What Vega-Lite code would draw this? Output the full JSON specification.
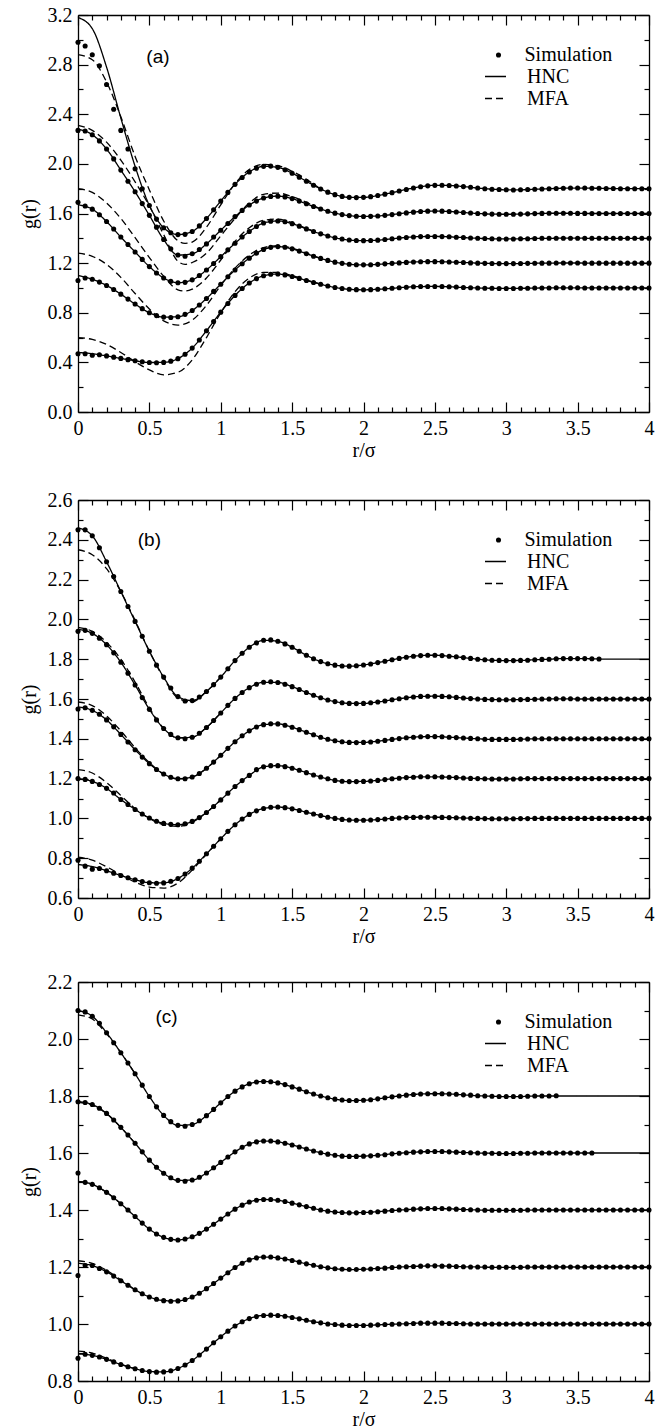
{
"$schema": "https://vega.github.io/schema/vega-lite/v6.json",
"background": "white",
"padding": {"left": 19, "top": 5, "right": 8, "bottom": 4},
"config": {
 "view": {"stroke": null},
 "axis": {"labelFont": "Liberation Serif", "labelFontSize": 20, "labelColor": "black", "titleFont": "Liberation Serif", "titleFontSize": 20, "titleFontWeight": "normal", "titleColor": "black", "domainColor": "black", "domainWidth": 1.3, "tickColor": "black", "tickWidth": 1.2, "grid": false, "labelFlush": false, "labelOverlap": false, "labelBound": false},
 "legend": {"labelFont": "Liberation Serif", "labelFontSize": 20, "labelColor": "black", "title": null, "orient": "none"}
},
"spacing": 30,
"resolve": {"scale": {"strokeDash": "independent", "shape": "independent"}, "legend": {"strokeDash": "independent", "shape": "independent"}},
"datasets": {
"a": [
{"r":0,"s1":0.47,"s2":1.06,"s3":1.69,"s4":2.27,"s5":2.98,"h1":0.48,"h2":1.1,"h3":1.67,"h4":2.28,"h5":3.18,"m1":0.6,"m2":1.28,"m3":1.8,"m4":2.31,"m5":2.88},
{"r":0.05,"s1":0.47,"s2":1.08,"s3":1.66,"s4":2.265,"s5":2.95},
{"r":0.1,"s1":0.458,"s2":1.07,"s3":1.635,"s4":2.235,"s5":2.88,"h1":0.47,"h2":1.07,"h3":1.635,"h4":2.235,"h5":3.09,"m1":0.585,"m2":1.255,"m3":1.77,"m4":2.27,"m5":2.84},
{"r":0.15,"s1":0.462,"s2":1.047,"s3":1.59,"s4":2.185,"s5":2.79},
{"r":0.2,"s1":0.452,"s2":1.02,"s3":1.535,"s4":2.12,"s5":2.64,"h1":0.452,"h2":1.02,"h3":1.535,"h4":2.12,"h5":2.78,"m1":0.545,"m2":1.19,"m3":1.685,"m4":2.175,"m5":2.66},
{"r":0.25,"s1":0.442,"s2":0.987,"s3":1.475,"s4":2.04,"s5":2.44},
{"r":0.3,"s1":0.432,"s2":0.95,"s3":1.41,"s4":1.95,"s5":2.27,"h1":0.432,"h2":0.95,"h3":1.41,"h4":1.95,"h5":2.37,"m1":0.48,"m2":1.085,"m3":1.56,"m4":2.03,"m5":2.38},
{"r":0.35,"s1":0.422,"s2":0.91,"s3":1.35,"s4":1.86,"s5":2.12},
{"r":0.4,"s1":0.413,"s2":0.87,"s3":1.29,"s4":1.775,"s5":1.96,"h1":0.413,"h2":0.87,"h3":1.29,"h4":1.775,"h5":1.98,"m1":0.405,"m2":0.955,"m3":1.405,"m4":1.855,"m5":2.06},
{"r":0.45,"s1":0.405,"s2":0.833,"s3":1.23,"s4":1.68,"s5":1.8},
{"r":0.5,"s1":0.399,"s2":0.8,"s3":1.172,"s4":1.585,"s5":1.665,"h1":0.399,"h2":0.8,"h3":1.172,"h4":1.585,"h5":1.665,"m1":0.34,"m2":0.83,"m3":1.245,"m4":1.66,"m5":1.79},
{"r":0.55,"s1":0.397,"s2":0.777,"s3":1.12,"s4":1.49,"s5":1.555},
{"r":0.6,"s1":0.4,"s2":0.765,"s3":1.08,"s4":1.39,"s5":1.485,"h1":0.4,"h2":0.765,"h3":1.08,"h4":1.39,"h5":1.485,"m1":0.3,"m2":0.735,"m3":1.095,"m4":1.43,"m5":1.54},
{"r":0.65,"s1":0.41,"s2":0.762,"s3":1.053,"s4":1.315,"s5":1.445},
{"r":0.7,"s1":0.43,"s2":0.768,"s3":1.042,"s4":1.265,"s5":1.43,"h1":0.43,"h2":0.768,"h3":1.042,"h4":1.265,"h5":1.43,"m1":0.32,"m2":0.7,"m3":0.985,"m4":1.215,"m5":1.38},
{"r":0.75,"s1":0.465,"s2":0.787,"s3":1.045,"s4":1.256,"s5":1.432,"m3":0.975,"m4":1.19,"m5":1.36},
{"r":0.8,"s1":0.515,"s2":0.818,"s3":1.065,"s4":1.275,"s5":1.455,"h1":0.515,"h2":0.818,"h3":1.065,"h4":1.275,"h5":1.455,"m1":0.42,"m2":0.74,"m3":0.99,"m4":1.205,"m5":1.37},
{"r":0.85,"s1":0.58,"s2":0.862,"s3":1.1,"s4":1.31,"s5":1.5},
{"r":0.9,"s1":0.655,"s2":0.915,"s3":1.145,"s4":1.355,"s5":1.56,"h1":0.655,"h2":0.915,"h3":1.145,"h4":1.355,"h5":1.56,"m1":0.6,"m2":0.86,"m3":1.08,"m4":1.28,"m5":1.49},
{"r":0.95,"s1":0.73,"s2":0.972,"s3":1.197,"s4":1.41,"s5":1.63},
{"r":1,"s1":0.805,"s2":1.03,"s3":1.252,"s4":1.465,"s5":1.7,"h1":0.805,"h2":1.03,"h3":1.252,"h4":1.465,"h5":1.7,"m1":0.8,"m2":1.02,"m3":1.225,"m4":1.42,"m5":1.67},
{"r":1.05,"s1":0.875,"s2":1.09,"s3":1.307,"s4":1.52,"s5":1.77},
{"r":1.1,"s1":0.94,"s2":1.145,"s3":1.36,"s4":1.575,"s5":1.835,"h1":0.94,"h2":1.145,"h3":1.36,"h4":1.575,"h5":1.835,"m1":0.97,"m2":1.16,"m3":1.375,"m4":1.56,"m5":1.84},
{"r":1.15,"s1":0.995,"s2":1.195,"s3":1.41,"s4":1.625,"s5":1.89},
{"r":1.2,"s1":1.04,"s2":1.24,"s3":1.455,"s4":1.668,"s5":1.935,"h1":1.04,"h2":1.24,"h3":1.455,"h4":1.668,"h5":1.935,"m1":1.08,"m2":1.265,"m3":1.485,"m4":1.685,"m5":1.955},
{"r":1.25,"s1":1.075,"s2":1.28,"s3":1.495,"s4":1.7,"s5":1.965},
{"r":1.3,"s1":1.098,"s2":1.31,"s3":1.523,"s4":1.725,"s5":1.98,"h1":1.098,"h2":1.31,"h3":1.523,"h4":1.725,"h5":1.98,"m1":1.125,"m2":1.325,"m3":1.545,"m4":1.755,"m5":1.995},
{"r":1.35,"s1":1.11,"s2":1.327,"s3":1.538,"s4":1.738,"s5":1.982},
{"r":1.4,"s1":1.112,"s2":1.333,"s3":1.54,"s4":1.74,"s5":1.972,"h1":1.112,"h2":1.333,"h3":1.54,"h4":1.74,"h5":1.972,"m1":1.125,"m2":1.34,"m3":1.555,"m4":1.765,"m5":1.985},
{"r":1.45,"s1":1.105,"s2":1.328,"s3":1.533,"s4":1.734,"s5":1.952},
{"r":1.5,"s1":1.092,"s2":1.315,"s3":1.518,"s4":1.72,"s5":1.925,"h1":1.092,"h2":1.315,"h3":1.518,"h4":1.72,"h5":1.925,"m1":1.1,"m2":1.32,"m3":1.525,"m4":1.735,"m5":1.94},
{"r":1.55,"s1":1.077,"s2":1.297,"s3":1.498,"s4":1.7,"s5":1.893},
{"r":1.6,"s1":1.06,"s2":1.276,"s3":1.476,"s4":1.678,"s5":1.86,"h1":1.06,"h2":1.276,"h3":1.476,"h4":1.678,"h5":1.86,"m1":1.065,"m2":1.28,"m3":1.48,"m4":1.69,"m5":1.875},
{"r":1.65,"s1":1.044,"s2":1.256,"s3":1.455,"s4":1.656,"s5":1.828},
{"r":1.7,"s1":1.03,"s2":1.238,"s3":1.436,"s4":1.636,"s5":1.798,"h1":1.03,"h2":1.238,"h3":1.436,"h4":1.636,"h5":1.798,"m1":1.03,"m2":1.238,"m3":1.436,"m4":1.636,"m5":1.798},
{"r":1.75,"s1":1.016,"s2":1.222,"s3":1.419,"s4":1.618,"s5":1.772},
{"r":1.8,"s1":1.004,"s2":1.208,"s3":1.405,"s4":1.603,"s5":1.752,"h1":1.004,"h2":1.208,"h3":1.405,"h4":1.603,"h5":1.752},
{"r":1.85,"s1":0.995,"s2":1.198,"s3":1.394,"s4":1.591,"s5":1.738},
{"r":1.9,"s1":0.989,"s2":1.191,"s3":1.386,"s4":1.583,"s5":1.73,"h1":0.989,"h2":1.191,"h3":1.386,"h4":1.583,"h5":1.73},
{"r":1.95,"s1":0.986,"s2":1.187,"s3":1.382,"s4":1.578,"s5":1.728},
{"r":2,"s1":0.985,"s2":1.186,"s3":1.381,"s4":1.576,"s5":1.73,"h1":0.985,"h2":1.186,"h3":1.381,"h4":1.576,"h5":1.73},
{"r":2.05,"s1":0.986,"s2":1.187,"s3":1.382,"s4":1.577,"s5":1.736},
{"r":2.1,"s1":0.989,"s2":1.19,"s3":1.385,"s4":1.58,"s5":1.745,"h1":0.989,"h2":1.19,"h3":1.385,"h4":1.58,"h5":1.745},
{"r":2.15,"s1":0.993,"s2":1.194,"s3":1.39,"s4":1.585,"s5":1.756},
{"r":2.2,"s1":0.997,"s2":1.198,"s3":1.396,"s4":1.591,"s5":1.768,"h1":0.997,"h2":1.198,"h3":1.396,"h4":1.591,"h5":1.768},
{"r":2.25,"s1":1.002,"s2":1.202,"s3":1.402,"s4":1.598,"s5":1.781},
{"r":2.3,"s1":1.006,"s2":1.206,"s3":1.407,"s4":1.605,"s5":1.794,"h1":1.006,"h2":1.206,"h3":1.407,"h4":1.605,"h5":1.794},
{"r":2.35,"s1":1.009,"s2":1.209,"s3":1.411,"s4":1.611,"s5":1.806},
{"r":2.4,"s1":1.011,"s2":1.211,"s3":1.414,"s4":1.616,"s5":1.816,"h1":1.011,"h2":1.211,"h3":1.414,"h4":1.616,"h5":1.816},
{"r":2.45,"s1":1.012,"s2":1.212,"s3":1.415,"s4":1.619,"s5":1.823},
{"r":2.5,"s1":1.012,"s2":1.212,"s3":1.415,"s4":1.62,"s5":1.827,"h1":1.012,"h2":1.212,"h3":1.415,"h4":1.62,"h5":1.827},
{"r":2.55,"s1":1.011,"s2":1.211,"s3":1.414,"s4":1.619,"s5":1.828},
{"r":2.6,"s1":1.009,"s2":1.209,"s3":1.412,"s4":1.616,"s5":1.826,"h1":1.009,"h2":1.209,"h3":1.412,"h4":1.616,"h5":1.826},
{"r":2.65,"s1":1.007,"s2":1.207,"s3":1.409,"s4":1.612,"s5":1.822},
{"r":2.7,"s1":1.004,"s2":1.205,"s3":1.406,"s4":1.608,"s5":1.817,"h1":1.004,"h2":1.205,"h3":1.406,"h4":1.608,"h5":1.817},
{"r":2.75,"s1":1.002,"s2":1.202,"s3":1.403,"s4":1.604,"s5":1.811},
{"r":2.8,"s1":1,"s2":1.2,"s3":1.4,"s4":1.6,"s5":1.805,"h1":1,"h2":1.2,"h3":1.4,"h4":1.6,"h5":1.805},
{"r":2.85,"s1":0.998,"s2":1.198,"s3":1.398,"s4":1.597,"s5":1.8},
{"r":2.9,"s1":0.997,"s2":1.197,"s3":1.396,"s4":1.595,"s5":1.796,"h1":0.997,"h2":1.197,"h3":1.396,"h4":1.595,"h5":1.796},
{"r":2.95,"s1":0.996,"s2":1.196,"s3":1.395,"s4":1.594,"s5":1.793},
{"r":3,"s1":0.996,"s2":1.196,"s3":1.395,"s4":1.594,"s5":1.791,"h1":0.996,"h2":1.196,"h3":1.395,"h4":1.594,"h5":1.791},
{"r":3.05,"s1":0.996,"s2":1.196,"s3":1.395,"s4":1.594,"s5":1.79},
{"r":3.1,"s1":0.997,"s2":1.197,"s3":1.396,"s4":1.595,"s5":1.791,"h1":0.997,"h2":1.197,"h3":1.396,"h4":1.595,"h5":1.791},
{"r":3.15,"s1":0.998,"s2":1.198,"s3":1.397,"s4":1.597,"s5":1.793},
{"r":3.2,"s1":0.999,"s2":1.199,"s3":1.399,"s4":1.599,"s5":1.795,"h1":0.999,"h2":1.199,"h3":1.399,"h4":1.599,"h5":1.795},
{"r":3.25,"s1":1,"s2":1.2,"s3":1.4,"s4":1.601,"s5":1.798},
{"r":3.3,"s1":1,"s2":1.2,"s3":1.4,"s4":1.602,"s5":1.8,"h1":1,"h2":1.2,"h3":1.4,"h4":1.602,"h5":1.8},
{"r":3.35,"s1":1.001,"s2":1.201,"s3":1.401,"s4":1.602,"s5":1.802},
{"r":3.4,"s1":1.001,"s2":1.201,"s3":1.401,"s4":1.602,"s5":1.804,"h1":1.001,"h2":1.201,"h3":1.401,"h4":1.602,"h5":1.804},
{"r":3.45,"s1":1.001,"s2":1.201,"s3":1.401,"s4":1.602,"s5":1.805},
{"r":3.5,"s1":1.001,"s2":1.201,"s3":1.401,"s4":1.601,"s5":1.805,"h1":1.001,"h2":1.201,"h3":1.401,"h4":1.601,"h5":1.805},
{"r":3.55,"s1":1,"s2":1.2,"s3":1.4,"s4":1.601,"s5":1.805},
{"r":3.6,"s1":1,"s2":1.2,"s3":1.4,"s4":1.6,"s5":1.804,"h1":1,"h2":1.2,"h3":1.4,"h4":1.6,"h5":1.804},
{"r":3.65,"s1":1,"s2":1.2,"s3":1.4,"s4":1.6,"s5":1.803},
{"r":3.7,"s1":1,"s2":1.2,"s3":1.4,"s4":1.6,"s5":1.802,"h1":1,"h2":1.2,"h3":1.4,"h4":1.6,"h5":1.802},
{"r":3.75,"s1":1,"s2":1.2,"s3":1.4,"s4":1.6,"s5":1.801},
{"r":3.8,"s1":1,"s2":1.2,"s3":1.4,"s4":1.6,"s5":1.8,"h1":1,"h2":1.2,"h3":1.4,"h4":1.6,"h5":1.8},
{"r":3.85,"s1":1,"s2":1.2,"s3":1.4,"s4":1.6,"s5":1.8},
{"r":3.9,"s1":1,"s2":1.2,"s3":1.4,"s4":1.6,"s5":1.8,"h1":1,"h2":1.2,"h3":1.4,"h4":1.6,"h5":1.8},
{"r":3.95,"s1":1,"s2":1.2,"s3":1.4,"s4":1.6,"s5":1.8},
{"r":4,"s1":1,"s2":1.2,"s3":1.4,"s4":1.6,"s5":1.8,"h1":1,"h2":1.2,"h3":1.4,"h4":1.6,"h5":1.8}
],
"b": [
{"r":0,"s1":0.79,"s2":1.2,"s3":1.55,"s4":1.94,"s5":2.45,"h1":0.768,"h2":1.2,"h3":1.56,"h4":1.95,"h5":2.46,"m1":0.805,"m2":1.245,"m3":1.585,"m4":1.96,"m5":2.35},
{"r":0.05,"s1":0.76,"s2":1.196,"s3":1.556,"s4":1.945,"s5":2.45},
{"r":0.1,"s1":0.745,"s2":1.186,"s3":1.543,"s4":1.93,"s5":2.42,"h1":0.758,"h2":1.186,"h3":1.543,"h4":1.93,"h5":2.42,"m1":0.79,"m2":1.228,"m3":1.567,"m4":1.94,"m5":2.325},
{"r":0.15,"s1":0.748,"s2":1.17,"s3":1.523,"s4":1.905,"s5":2.36},
{"r":0.2,"s1":0.737,"s2":1.151,"s3":1.495,"s4":1.873,"s5":2.29,"h1":0.737,"h2":1.151,"h3":1.495,"h4":1.873,"h5":2.29,"m1":0.757,"m2":1.18,"m3":1.515,"m4":1.885,"m5":2.255},
{"r":0.25,"s1":0.725,"s2":1.128,"s3":1.46,"s4":1.832,"s5":2.215},
{"r":0.3,"s1":0.713,"s2":1.095,"s3":1.422,"s4":1.785,"s5":2.14,"h1":0.713,"h2":1.095,"h3":1.422,"h4":1.785,"h5":2.14,"m1":0.717,"m2":1.115,"m3":1.44,"m4":1.8,"m5":2.14},
{"r":0.35,"s1":0.702,"s2":1.07,"s3":1.384,"s4":1.73,"s5":2.065},
{"r":0.4,"s1":0.692,"s2":1.045,"s3":1.345,"s4":1.67,"s5":1.99,"h1":0.692,"h2":1.045,"h3":1.345,"h4":1.67,"h5":1.99,"m1":0.68,"m2":1.05,"m3":1.355,"m4":1.685,"m5":1.995},
{"r":0.45,"s1":0.683,"s2":1.022,"s3":1.308,"s4":1.607,"s5":1.915},
{"r":0.5,"s1":0.677,"s2":1.002,"s3":1.275,"s4":1.548,"s5":1.84,"h1":0.677,"h2":1.002,"h3":1.275,"h4":1.548,"h5":1.84,"m1":0.655,"m2":1,"m3":1.28,"m4":1.555,"m5":1.84},
{"r":0.55,"s1":0.674,"s2":0.986,"s3":1.246,"s4":1.495,"s5":1.77},
{"r":0.6,"s1":0.676,"s2":0.975,"s3":1.223,"s4":1.452,"s5":1.71,"h1":0.676,"h2":0.975,"h3":1.223,"h4":1.452,"h5":1.71,"m1":0.65,"m2":0.968,"m3":1.223,"m4":1.452,"m5":1.705},
{"r":0.65,"s1":0.684,"s2":0.97,"s3":1.207,"s4":1.422,"s5":1.655},
{"r":0.7,"s1":0.698,"s2":0.968,"s3":1.199,"s4":1.405,"s5":1.612,"h1":0.698,"h2":0.968,"h3":1.199,"h4":1.405,"h5":1.612,"m1":0.675,"m2":0.96,"m3":1.199,"m4":1.405,"m5":1.605},
{"r":0.75,"s1":0.72,"s2":0.973,"s3":1.199,"s4":1.4,"s5":1.59},
{"r":0.8,"s1":0.75,"s2":0.985,"s3":1.208,"s4":1.408,"s5":1.592,"h1":0.75,"h2":0.985,"h3":1.208,"h4":1.408,"h5":1.592,"m1":0.74,"m2":0.98,"m3":1.208,"m4":1.408,"m5":1.585},
{"r":0.85,"s1":0.785,"s2":1.004,"s3":1.226,"s4":1.428,"s5":1.61},
{"r":0.9,"s1":0.822,"s2":1.03,"s3":1.252,"s4":1.457,"s5":1.638,"h1":0.822,"h2":1.03,"h3":1.252,"h4":1.457,"h5":1.638,"m1":0.82,"m2":1.03,"m3":1.252,"m4":1.457,"m5":1.638},
{"r":0.95,"s1":0.86,"s2":1.06,"s3":1.283,"s4":1.492,"s5":1.672},
{"r":1,"s1":0.898,"s2":1.093,"s3":1.317,"s4":1.53,"s5":1.71,"h1":0.898,"h2":1.093,"h3":1.317,"h4":1.53,"h5":1.71,"m1":0.898,"m2":1.093,"m3":1.317,"m4":1.53,"m5":1.71},
{"r":1.05,"s1":0.935,"s2":1.127,"s3":1.352,"s4":1.568,"s5":1.752},
{"r":1.1,"s1":0.968,"s2":1.16,"s3":1.385,"s4":1.603,"s5":1.793,"h1":0.968,"h2":1.16,"h3":1.385,"h4":1.603,"h5":1.793},
{"r":1.15,"s1":0.997,"s2":1.19,"s3":1.415,"s4":1.633,"s5":1.83},
{"r":1.2,"s1":1.02,"s2":1.216,"s3":1.44,"s4":1.657,"s5":1.86,"h1":1.02,"h2":1.216,"h3":1.44,"h4":1.657,"h5":1.86},
{"r":1.25,"s1":1.038,"s2":1.245,"s3":1.459,"s4":1.674,"s5":1.882},
{"r":1.3,"s1":1.05,"s2":1.259,"s3":1.471,"s4":1.684,"s5":1.895,"h1":1.05,"h2":1.259,"h3":1.471,"h4":1.684,"h5":1.895},
{"r":1.35,"s1":1.056,"s2":1.265,"s3":1.476,"s4":1.687,"s5":1.897},
{"r":1.4,"s1":1.057,"s2":1.265,"s3":1.475,"s4":1.683,"s5":1.89,"h1":1.057,"h2":1.265,"h3":1.475,"h4":1.683,"h5":1.89},
{"r":1.45,"s1":1.054,"s2":1.26,"s3":1.468,"s4":1.674,"s5":1.877},
{"r":1.5,"s1":1.048,"s2":1.252,"s3":1.458,"s4":1.662,"s5":1.86,"h1":1.048,"h2":1.252,"h3":1.458,"h4":1.662,"h5":1.86},
{"r":1.55,"s1":1.04,"s2":1.242,"s3":1.446,"s4":1.648,"s5":1.84},
{"r":1.6,"s1":1.031,"s2":1.23,"s3":1.433,"s4":1.633,"s5":1.82,"h1":1.031,"h2":1.23,"h3":1.433,"h4":1.633,"h5":1.82},
{"r":1.65,"s1":1.022,"s2":1.218,"s3":1.42,"s4":1.619,"s5":1.802},
{"r":1.7,"s1":1.014,"s2":1.208,"s3":1.408,"s4":1.606,"s5":1.788,"h1":1.014,"h2":1.208,"h3":1.408,"h4":1.606,"h5":1.788},
{"r":1.75,"s1":1.006,"s2":1.199,"s3":1.398,"s4":1.595,"s5":1.777},
{"r":1.8,"s1":1,"s2":1.191,"s3":1.39,"s4":1.587,"s5":1.77,"h1":1,"h2":1.191,"h3":1.39,"h4":1.587,"h5":1.77},
{"r":1.85,"s1":0.995,"s2":1.187,"s3":1.385,"s4":1.581,"s5":1.766},
{"r":1.9,"s1":0.992,"s2":1.185,"s3":1.382,"s4":1.578,"s5":1.765,"h1":0.992,"h2":1.185,"h3":1.382,"h4":1.578,"h5":1.765},
{"r":1.95,"s1":0.991,"s2":1.185,"s3":1.381,"s4":1.577,"s5":1.767},
{"r":2,"s1":0.991,"s2":1.186,"s3":1.382,"s4":1.578,"s5":1.771,"h1":0.991,"h2":1.186,"h3":1.382,"h4":1.578,"h5":1.771},
{"r":2.05,"s1":0.992,"s2":1.188,"s3":1.384,"s4":1.581,"s5":1.776},
{"r":2.1,"s1":0.994,"s2":1.191,"s3":1.388,"s4":1.585,"s5":1.783,"h1":0.994,"h2":1.191,"h3":1.388,"h4":1.585,"h5":1.783},
{"r":2.15,"s1":0.997,"s2":1.195,"s3":1.392,"s4":1.59,"s5":1.79},
{"r":2.2,"s1":1,"s2":1.199,"s3":1.397,"s4":1.596,"s5":1.797,"h1":1,"h2":1.199,"h3":1.397,"h4":1.596,"h5":1.797},
{"r":2.25,"s1":1.002,"s2":1.202,"s3":1.401,"s4":1.601,"s5":1.804},
{"r":2.3,"s1":1.004,"s2":1.205,"s3":1.405,"s4":1.606,"s5":1.81,"h1":1.004,"h2":1.205,"h3":1.405,"h4":1.606,"h5":1.81},
{"r":2.35,"s1":1.005,"s2":1.207,"s3":1.408,"s4":1.61,"s5":1.815},
{"r":2.4,"s1":1.006,"s2":1.209,"s3":1.41,"s4":1.613,"s5":1.818,"h1":1.006,"h2":1.209,"h3":1.41,"h4":1.613,"h5":1.818},
{"r":2.45,"s1":1.006,"s2":1.209,"s3":1.411,"s4":1.614,"s5":1.82},
{"r":2.5,"s1":1.006,"s2":1.209,"s3":1.411,"s4":1.614,"s5":1.82,"h1":1.006,"h2":1.209,"h3":1.411,"h4":1.614,"h5":1.82},
{"r":2.55,"s1":1.005,"s2":1.208,"s3":1.41,"s4":1.613,"s5":1.818},
{"r":2.6,"s1":1.004,"s2":1.207,"s3":1.408,"s4":1.611,"s5":1.815,"h1":1.004,"h2":1.207,"h3":1.408,"h4":1.611,"h5":1.815},
{"r":2.65,"s1":1.003,"s2":1.205,"s3":1.406,"s4":1.608,"s5":1.812},
{"r":2.7,"s1":1.002,"s2":1.203,"s3":1.404,"s4":1.605,"s5":1.808,"h1":1.002,"h2":1.203,"h3":1.404,"h4":1.605,"h5":1.808},
{"r":2.75,"s1":1.001,"s2":1.201,"s3":1.402,"s4":1.602,"s5":1.804},
{"r":2.8,"s1":1,"s2":1.2,"s3":1.4,"s4":1.6,"s5":1.8,"h1":1,"h2":1.2,"h3":1.4,"h4":1.6,"h5":1.8},
{"r":2.85,"s1":0.999,"s2":1.199,"s3":1.398,"s4":1.598,"s5":1.797},
{"r":2.9,"s1":0.998,"s2":1.198,"s3":1.397,"s4":1.597,"s5":1.795,"h1":0.998,"h2":1.198,"h3":1.397,"h4":1.597,"h5":1.795},
{"r":2.95,"s1":0.998,"s2":1.198,"s3":1.397,"s4":1.596,"s5":1.794},
{"r":3,"s1":0.998,"s2":1.198,"s3":1.397,"s4":1.596,"s5":1.793,"h1":0.998,"h2":1.198,"h3":1.397,"h4":1.596,"h5":1.793},
{"r":3.05,"s1":0.998,"s2":1.198,"s3":1.397,"s4":1.596,"s5":1.793},
{"r":3.1,"s1":0.999,"s2":1.199,"s3":1.398,"s4":1.597,"s5":1.794,"h1":0.999,"h2":1.199,"h3":1.398,"h4":1.597,"h5":1.794},
{"r":3.15,"s1":0.999,"s2":1.2,"s3":1.399,"s4":1.598,"s5":1.795},
{"r":3.2,"s1":1,"s2":1.2,"s3":1.4,"s4":1.599,"s5":1.797,"h1":1,"h2":1.2,"h3":1.4,"h4":1.599,"h5":1.797},
{"r":3.25,"s1":1,"s2":1.2,"s3":1.4,"s4":1.6,"s5":1.799},
{"r":3.3,"s1":1,"s2":1.2,"s3":1.4,"s4":1.6,"s5":1.8,"h1":1,"h2":1.2,"h3":1.4,"h4":1.6,"h5":1.8},
{"r":3.35,"s1":1,"s2":1.2,"s3":1.4,"s4":1.601,"s5":1.802},
{"r":3.4,"s1":1,"s2":1.2,"s3":1.4,"s4":1.601,"s5":1.803,"h1":1,"h2":1.2,"h3":1.4,"h4":1.601,"h5":1.803},
{"r":3.45,"s1":1,"s2":1.2,"s3":1.4,"s4":1.601,"s5":1.803},
{"r":3.5,"s1":1,"s2":1.2,"s3":1.4,"s4":1.6,"s5":1.803,"h1":1,"h2":1.2,"h3":1.4,"h4":1.6,"h5":1.803},
{"r":3.55,"s1":1,"s2":1.2,"s3":1.4,"s4":1.6,"s5":1.803},
{"r":3.6,"s1":1,"s2":1.2,"s3":1.4,"s4":1.6,"s5":1.802,"h1":1,"h2":1.2,"h3":1.4,"h4":1.6,"h5":1.802},
{"r":3.65,"s1":1,"s2":1.2,"s3":1.4,"s4":1.6,"s5":1.801},
{"r":3.7,"s1":1,"s2":1.2,"s3":1.4,"s4":1.6,"h1":1,"h2":1.2,"h3":1.4,"h4":1.6,"h5":1.8},
{"r":3.75,"s1":1,"s2":1.2,"s3":1.4,"s4":1.6},
{"r":3.8,"s1":1,"s2":1.2,"s3":1.4,"s4":1.6,"h1":1,"h2":1.2,"h3":1.4,"h4":1.6,"h5":1.8},
{"r":3.85,"s1":1,"s2":1.2,"s3":1.4,"s4":1.6},
{"r":3.9,"s1":1,"s2":1.2,"s3":1.4,"s4":1.6,"h1":1,"h2":1.2,"h3":1.4,"h4":1.6,"h5":1.8},
{"r":3.95,"s1":1,"s2":1.2,"s3":1.4,"s4":1.6},
{"r":4,"s1":1,"s2":1.2,"s3":1.4,"s4":1.6,"h1":1,"h2":1.2,"h3":1.4,"h4":1.6,"h5":1.8}
],
"c": [
{"r":0,"s1":0.88,"s2":1.17,"s3":1.53,"s4":1.78,"s5":2.1,"h1":0.895,"h2":1.213,"h3":1.5,"h4":1.78,"h5":2.1,"m1":0.905,"m2":1.222,"m3":1.5,"m4":1.778,"m5":2.085},
{"r":0.05,"s1":0.894,"s2":1.205,"s3":1.497,"s4":1.777,"s5":2.095},
{"r":0.1,"s1":0.89,"s2":1.205,"s3":1.49,"s4":1.77,"s5":2.08,"h1":0.89,"h2":1.205,"h3":1.49,"h4":1.77,"h5":2.08,"m1":0.898,"m2":1.213,"m3":1.49,"m4":1.768,"m5":2.07},
{"r":0.15,"s1":0.884,"s2":1.195,"s3":1.478,"s4":1.757,"s5":2.055},
{"r":0.2,"s1":0.876,"s2":1.183,"s3":1.462,"s4":1.739,"s5":2.022,"h1":0.876,"h2":1.183,"h3":1.462,"h4":1.739,"h5":2.022,"m1":0.88,"m2":1.188,"m3":1.462,"m4":1.738,"m5":2.018},
{"r":0.25,"s1":0.867,"s2":1.168,"s3":1.443,"s4":1.716,"s5":1.987},
{"r":0.3,"s1":0.858,"s2":1.152,"s3":1.422,"s4":1.69,"s5":1.952,"h1":0.858,"h2":1.152,"h3":1.422,"h4":1.69,"h5":1.952,"m1":0.859,"m2":1.155,"m3":1.422,"m4":1.69,"m5":1.952},
{"r":0.35,"s1":0.85,"s2":1.136,"s3":1.4,"s4":1.663,"s5":1.916},
{"r":0.4,"s1":0.843,"s2":1.12,"s3":1.377,"s4":1.634,"s5":1.878,"h1":0.843,"h2":1.12,"h3":1.377,"h4":1.634,"h5":1.878,"m1":0.843,"m2":1.12,"m3":1.377,"m4":1.634,"m5":1.878},
{"r":0.45,"s1":0.837,"s2":1.106,"s3":1.354,"s4":1.604,"s5":1.838},
{"r":0.5,"s1":0.833,"s2":1.095,"s3":1.333,"s4":1.575,"s5":1.798,"h1":0.833,"h2":1.095,"h3":1.333,"h4":1.575,"h5":1.798},
{"r":0.55,"s1":0.831,"s2":1.087,"s3":1.316,"s4":1.55,"s5":1.762},
{"r":0.6,"s1":0.832,"s2":1.082,"s3":1.304,"s4":1.529,"s5":1.732,"h1":0.832,"h2":1.082,"h3":1.304,"h4":1.529,"h5":1.732},
{"r":0.65,"s1":0.836,"s2":1.08,"s3":1.297,"s4":1.513,"s5":1.71},
{"r":0.7,"s1":0.844,"s2":1.081,"s3":1.295,"s4":1.504,"s5":1.697,"h1":0.844,"h2":1.081,"h3":1.295,"h4":1.504,"h5":1.697},
{"r":0.75,"s1":0.856,"s2":1.086,"s3":1.298,"s4":1.501,"s5":1.694},
{"r":0.8,"s1":0.872,"s2":1.095,"s3":1.306,"s4":1.505,"s5":1.7,"h1":0.872,"h2":1.095,"h3":1.306,"h4":1.505,"h5":1.7},
{"r":0.85,"s1":0.891,"s2":1.108,"s3":1.318,"s4":1.515,"s5":1.713},
{"r":0.9,"s1":0.912,"s2":1.124,"s3":1.333,"s4":1.53,"s5":1.731,"h1":0.912,"h2":1.124,"h3":1.333,"h4":1.53,"h5":1.731},
{"r":0.95,"s1":0.934,"s2":1.142,"s3":1.35,"s4":1.548,"s5":1.753},
{"r":1,"s1":0.955,"s2":1.161,"s3":1.368,"s4":1.567,"s5":1.776,"h1":0.955,"h2":1.161,"h3":1.368,"h4":1.567,"h5":1.776},
{"r":1.05,"s1":0.975,"s2":1.18,"s3":1.386,"s4":1.586,"s5":1.798},
{"r":1.1,"s1":0.993,"s2":1.198,"s3":1.403,"s4":1.604,"s5":1.817,"h1":0.993,"h2":1.198,"h3":1.403,"h4":1.604,"h5":1.817},
{"r":1.15,"s1":1.008,"s2":1.213,"s3":1.417,"s4":1.62,"s5":1.832},
{"r":1.2,"s1":1.019,"s2":1.225,"s3":1.428,"s4":1.632,"s5":1.843,"h1":1.019,"h2":1.225,"h3":1.428,"h4":1.632,"h5":1.843},
{"r":1.25,"s1":1.026,"s2":1.232,"s3":1.434,"s4":1.639,"s5":1.849},
{"r":1.3,"s1":1.03,"s2":1.235,"s3":1.437,"s4":1.642,"s5":1.851,"h1":1.03,"h2":1.235,"h3":1.437,"h4":1.642,"h5":1.851},
{"r":1.35,"s1":1.031,"s2":1.235,"s3":1.437,"s4":1.642,"s5":1.85},
{"r":1.4,"s1":1.03,"s2":1.232,"s3":1.434,"s4":1.639,"s5":1.846,"h1":1.03,"h2":1.232,"h3":1.434,"h4":1.639,"h5":1.846},
{"r":1.45,"s1":1.027,"s2":1.228,"s3":1.43,"s4":1.634,"s5":1.84},
{"r":1.5,"s1":1.023,"s2":1.223,"s3":1.424,"s4":1.628,"s5":1.832,"h1":1.023,"h2":1.223,"h3":1.424,"h4":1.628,"h5":1.832},
{"r":1.55,"s1":1.018,"s2":1.217,"s3":1.418,"s4":1.621,"s5":1.824},
{"r":1.6,"s1":1.013,"s2":1.211,"s3":1.412,"s4":1.614,"s5":1.815,"h1":1.013,"h2":1.211,"h3":1.412,"h4":1.614,"h5":1.815},
{"r":1.65,"s1":1.008,"s2":1.206,"s3":1.406,"s4":1.607,"s5":1.807},
{"r":1.7,"s1":1.004,"s2":1.201,"s3":1.4,"s4":1.601,"s5":1.8,"h1":1.004,"h2":1.201,"h3":1.4,"h4":1.601,"h5":1.8},
{"r":1.75,"s1":1,"s2":1.197,"s3":1.396,"s4":1.596,"s5":1.794},
{"r":1.8,"s1":0.998,"s2":1.194,"s3":1.393,"s4":1.592,"s5":1.789,"h1":0.998,"h2":1.194,"h3":1.393,"h4":1.592,"h5":1.789},
{"r":1.85,"s1":0.996,"s2":1.192,"s3":1.391,"s4":1.589,"s5":1.786},
{"r":1.9,"s1":0.995,"s2":1.191,"s3":1.39,"s4":1.588,"s5":1.784,"h1":0.995,"h2":1.191,"h3":1.39,"h4":1.588,"h5":1.784},
{"r":1.95,"s1":0.995,"s2":1.191,"s3":1.39,"s4":1.588,"s5":1.784},
{"r":2,"s1":0.995,"s2":1.192,"s3":1.391,"s4":1.589,"s5":1.785,"h1":0.995,"h2":1.192,"h3":1.391,"h4":1.589,"h5":1.785},
{"r":2.05,"s1":0.996,"s2":1.193,"s3":1.392,"s4":1.59,"s5":1.787},
{"r":2.1,"s1":0.997,"s2":1.195,"s3":1.394,"s4":1.592,"s5":1.79,"h1":0.997,"h2":1.195,"h3":1.394,"h4":1.592,"h5":1.79},
{"r":2.15,"s1":0.998,"s2":1.196,"s3":1.396,"s4":1.594,"s5":1.794},
{"r":2.2,"s1":0.999,"s2":1.198,"s3":1.398,"s4":1.597,"s5":1.797,"h1":0.999,"h2":1.198,"h3":1.398,"h4":1.597,"h5":1.797},
{"r":2.25,"s1":1,"s2":1.2,"s3":1.4,"s4":1.599,"s5":1.8},
{"r":2.3,"s1":1.001,"s2":1.201,"s3":1.401,"s4":1.601,"s5":1.803,"h1":1.001,"h2":1.201,"h3":1.401,"h4":1.601,"h5":1.803},
{"r":2.35,"s1":1.002,"s2":1.202,"s3":1.403,"s4":1.603,"s5":1.805},
{"r":2.4,"s1":1.003,"s2":1.203,"s3":1.404,"s4":1.604,"s5":1.807,"h1":1.003,"h2":1.203,"h3":1.404,"h4":1.604,"h5":1.807},
{"r":2.45,"s1":1.003,"s2":1.204,"s3":1.405,"s4":1.605,"s5":1.808},
{"r":2.5,"s1":1.003,"s2":1.204,"s3":1.405,"s4":1.605,"s5":1.808,"h1":1.003,"h2":1.204,"h3":1.405,"h4":1.605,"h5":1.808},
{"r":2.55,"s1":1.003,"s2":1.203,"s3":1.405,"s4":1.605,"s5":1.808},
{"r":2.6,"s1":1.002,"s2":1.203,"s3":1.404,"s4":1.604,"s5":1.807,"h1":1.002,"h2":1.203,"h3":1.404,"h4":1.604,"h5":1.807},
{"r":2.65,"s1":1.002,"s2":1.202,"s3":1.403,"s4":1.603,"s5":1.806},
{"r":2.7,"s1":1.001,"s2":1.201,"s3":1.402,"s4":1.602,"s5":1.804,"h1":1.001,"h2":1.201,"h3":1.402,"h4":1.602,"h5":1.804},
{"r":2.75,"s1":1,"s2":1.2,"s3":1.401,"s4":1.601,"s5":1.803},
{"r":2.8,"s1":1,"s2":1.2,"s3":1.4,"s4":1.6,"s5":1.801,"h1":1,"h2":1.2,"h3":1.4,"h4":1.6,"h5":1.801},
{"r":2.85,"s1":1,"s2":1.2,"s3":1.399,"s4":1.599,"s5":1.8},
{"r":2.9,"s1":1,"s2":1.199,"s3":1.399,"s4":1.599,"s5":1.799,"h1":1,"h2":1.199,"h3":1.399,"h4":1.599,"h5":1.799},
{"r":2.95,"s1":1,"s2":1.199,"s3":1.399,"s4":1.598,"s5":1.798},
{"r":3,"s1":1,"s2":1.199,"s3":1.399,"s4":1.598,"s5":1.798,"h1":1,"h2":1.199,"h3":1.399,"h4":1.598,"h5":1.798},
{"r":3.05,"s1":1,"s2":1.199,"s3":1.399,"s4":1.598,"s5":1.798},
{"r":3.1,"s1":1,"s2":1.199,"s3":1.399,"s4":1.599,"s5":1.798,"h1":1,"h2":1.199,"h3":1.399,"h4":1.599,"h5":1.798},
{"r":3.15,"s1":1,"s2":1.2,"s3":1.4,"s4":1.599,"s5":1.799},
{"r":3.2,"s1":1,"s2":1.2,"s3":1.4,"s4":1.6,"s5":1.8,"h1":1,"h2":1.2,"h3":1.4,"h4":1.6,"h5":1.8},
{"r":3.25,"s1":1,"s2":1.2,"s3":1.4,"s4":1.6,"s5":1.8},
{"r":3.3,"s1":1,"s2":1.2,"s3":1.4,"s4":1.6,"s5":1.8,"h1":1,"h2":1.2,"h3":1.4,"h4":1.6,"h5":1.8},
{"r":3.35,"s1":1,"s2":1.2,"s3":1.4,"s4":1.6,"s5":1.801},
{"r":3.4,"s1":1,"s2":1.2,"s3":1.4,"s4":1.6,"h1":1,"h2":1.2,"h3":1.4,"h4":1.6,"h5":1.8},
{"r":3.45,"s1":1,"s2":1.2,"s3":1.4,"s4":1.6},
{"r":3.5,"s1":1,"s2":1.2,"s3":1.4,"s4":1.6,"h1":1,"h2":1.2,"h3":1.4,"h4":1.6,"h5":1.8},
{"r":3.55,"s1":1,"s2":1.2,"s3":1.4,"s4":1.6},
{"r":3.6,"s1":1,"s2":1.2,"s3":1.4,"s4":1.6,"h1":1,"h2":1.2,"h3":1.4,"h4":1.6,"h5":1.8},
{"r":3.65,"s1":1,"s2":1.2,"s3":1.4},
{"r":3.7,"s1":1,"s2":1.2,"s3":1.4,"h1":1,"h2":1.2,"h3":1.4,"h4":1.6,"h5":1.8},
{"r":3.75,"s1":1,"s2":1.2,"s3":1.4},
{"r":3.8,"s1":1,"s2":1.2,"s3":1.4,"h1":1,"h2":1.2,"h3":1.4,"h4":1.6,"h5":1.8},
{"r":3.85,"s1":1,"s2":1.2,"s3":1.4},
{"r":3.9,"s1":1,"s2":1.2,"s3":1.4,"h1":1,"h2":1.2,"h3":1.4,"h4":1.6,"h5":1.8},
{"r":3.95,"s1":1,"s2":1.2,"s3":1.4},
{"r":4,"s1":1,"s2":1.2,"s3":1.4,"h1":1,"h2":1.2,"h3":1.4,"h4":1.6,"h5":1.8}
]
},
"vconcat": [
{
 "width": 571, "height": 397,
 "data": {"name": "a"},
 "layer": [
  {
   "transform": [{"fold": ["h1","h2","h3","h4","h5"], "as": ["k","g"]}, {"filter": "isValid(datum.g)"}],
   "mark": {"type": "line", "interpolate": "monotone", "color": "black", "strokeWidth": 1.3},
   "encoding": {
    "x": {"field": "r", "type": "quantitative", "scale": {"domain": [0,4], "nice": false, "zero": false},
      "axis": {"orient": "bottom", "values": [0,0.1,0.2,0.3,0.4,0.5,0.6,0.7,0.8,0.9,1,1.1,1.2,1.3,1.4,1.5,1.6,1.7,1.8,1.9,2,2.1,2.2,2.3,2.4,2.5,2.6,2.7,2.8,2.9,3,3.1,3.2,3.3,3.4,3.5,3.6,3.7,3.8,3.9,4],
       "tickSize": {"condition": {"test": "abs(datum.value*2-round(datum.value*2))<0.01", "value": -10}, "value": -5},
       "labelExpr": "abs(datum.value*2-round(datum.value*2))<0.01 ? format(datum.value,'~g') : ''",
       "labelPadding": 16, "title": "r/σ", "titlePadding": -3}},
    "y": {"field": "g", "type": "quantitative", "scale": {"domain": [0,3.2], "nice": false, "zero": false},
      "axis": {"orient": "left", "values": [0,0.2,0.4,0.6,0.8,1,1.2,1.4,1.6,1.8,2,2.2,2.4,2.6,2.8,3,3.2],
       "tickSize": {"condition": {"test": "abs(datum.value*2.5-round(datum.value*2.5))<0.01", "value": -10}, "value": -5},
       "labelExpr": "abs(datum.value*2.5-round(datum.value*2.5))<0.01 ? format(datum.value,'.1f') : ''",
       "labelPadding": 16, "title": "g(r)", "titlePadding": 8}},
    "detail": {"field": "k"},
    "strokeDash": {"datum": "HNC", "type": "nominal", "scale": {"domain": ["HNC","MFA"], "range": [[1,0],[7,4]]},
      "legend": {"legendX": 406, "legendY": 50, "symbolType": "stroke", "symbolSize": 441, "symbolStrokeWidth": 1.3, "symbolStrokeColor": "black", "labelOffset": 20, "rowPadding": 0}}
   }
  },
  {
   "transform": [{"fold": ["m1","m2","m3","m4","m5"], "as": ["k","g"]}, {"filter": "isValid(datum.g)"}],
   "mark": {"type": "line", "interpolate": "monotone", "color": "black", "strokeWidth": 1.3},
   "encoding": {
    "x": {"field": "r", "type": "quantitative",
      "axis": {"orient": "top", "values": [0,0.1,0.2,0.3,0.4,0.5,0.6,0.7,0.8,0.9,1,1.1,1.2,1.3,1.4,1.5,1.6,1.7,1.8,1.9,2,2.1,2.2,2.3,2.4,2.5,2.6,2.7,2.8,2.9,3,3.1,3.2,3.3,3.4,3.5,3.6,3.7,3.8,3.9,4],
       "tickSize": {"condition": {"test": "abs(datum.value*2-round(datum.value*2))<0.01", "value": -10}, "value": -5},
       "labels": false, "title": null}},
    "y": {"field": "g", "type": "quantitative",
      "axis": {"orient": "right", "values": [0,0.2,0.4,0.6,0.8,1,1.2,1.4,1.6,1.8,2,2.2,2.4,2.6,2.8,3,3.2],
       "tickSize": {"condition": {"test": "abs(datum.value*2.5-round(datum.value*2.5))<0.01", "value": -10}, "value": -5},
       "labels": false, "title": null}},
    "detail": {"field": "k"},
    "strokeDash": {"datum": "MFA", "type": "nominal"}
   }
  },
  {
   "transform": [{"fold": ["s1","s2","s3","s4","s5"], "as": ["k","g"]}, {"filter": "isValid(datum.g)"}],
   "mark": {"type": "point", "filled": true, "color": "black", "size": 26, "opacity": 1},
   "encoding": {
    "x": {"field": "r", "type": "quantitative", "axis": null},
    "y": {"field": "g", "type": "quantitative", "axis": null},
    "shape": {"datum": "Simulation", "type": "nominal", "scale": {"domain": ["Simulation"], "range": ["circle"]},
      "legend": {"legendX": 410.5, "legendY": 30, "symbolSize": 26, "symbolFillColor": "black", "symbolStrokeWidth": 0, "labelOffset": 16}}
   }
  },
  {
   "data": {"values": [{"label": "(a)"}]},
   "mark": {"type": "text", "font": "Liberation Sans", "fontSize": 19, "color": "black"},
   "encoding": {
    "x": {"datum": 0.56, "type": "quantitative", "axis": null},
    "y": {"datum": 2.86, "type": "quantitative", "axis": null},
    "text": {"field": "label"}
   }
  }
 ],
 "resolve": {"axis": {"x": "independent", "y": "independent"}}
},
{
 "spacing": 26,
 "resolve": {"scale": {"strokeDash": "independent", "shape": "independent"}, "legend": {"strokeDash": "independent", "shape": "independent"}},
 "vconcat": [
{
 "width": 571, "height": 398,
 "data": {"name": "b"},
 "layer": [
  {
   "transform": [{"fold": ["h1","h2","h3","h4","h5"], "as": ["k","g"]}, {"filter": "isValid(datum.g)"}],
   "mark": {"type": "line", "interpolate": "monotone", "color": "black", "strokeWidth": 1.3},
   "encoding": {
    "x": {"field": "r", "type": "quantitative", "scale": {"domain": [0,4], "nice": false, "zero": false},
      "axis": {"orient": "bottom", "values": [0,0.1,0.2,0.3,0.4,0.5,0.6,0.7,0.8,0.9,1,1.1,1.2,1.3,1.4,1.5,1.6,1.7,1.8,1.9,2,2.1,2.2,2.3,2.4,2.5,2.6,2.7,2.8,2.9,3,3.1,3.2,3.3,3.4,3.5,3.6,3.7,3.8,3.9,4],
       "tickSize": {"condition": {"test": "abs(datum.value*2-round(datum.value*2))<0.01", "value": -10}, "value": -5},
       "labelExpr": "abs(datum.value*2-round(datum.value*2))<0.01 ? format(datum.value,'~g') : ''",
       "labelPadding": 16, "title": "r/σ", "titlePadding": -3}},
    "y": {"field": "g", "type": "quantitative", "scale": {"domain": [0.6,2.6], "nice": false, "zero": false},
      "axis": {"orient": "left", "values": [0.6,0.7,0.8,0.9,1,1.1,1.2,1.3,1.4,1.5,1.6,1.7,1.8,1.9,2,2.1,2.2,2.3,2.4,2.5,2.6],
       "tickSize": {"condition": {"test": "abs(datum.value*5-round(datum.value*5))<0.01", "value": -10}, "value": -5},
       "labelExpr": "abs(datum.value*5-round(datum.value*5))<0.01 ? format(datum.value,'.1f') : ''",
       "labelPadding": 16, "title": "g(r)", "titlePadding": 8}},
    "detail": {"field": "k"},
    "strokeDash": {"datum": "HNC", "type": "nominal", "scale": {"domain": ["HNC","MFA"], "range": [[1,0],[7,4]]},
      "legend": {"legendX": 406, "legendY": 50, "symbolType": "stroke", "symbolSize": 441, "symbolStrokeWidth": 1.3, "symbolStrokeColor": "black", "labelOffset": 20, "rowPadding": 0}}
   }
  },
  {
   "transform": [{"fold": ["m1","m2","m3","m4","m5"], "as": ["k","g"]}, {"filter": "isValid(datum.g)"}],
   "mark": {"type": "line", "interpolate": "monotone", "color": "black", "strokeWidth": 1.3},
   "encoding": {
    "x": {"field": "r", "type": "quantitative",
      "axis": {"orient": "top", "values": [0,0.1,0.2,0.3,0.4,0.5,0.6,0.7,0.8,0.9,1,1.1,1.2,1.3,1.4,1.5,1.6,1.7,1.8,1.9,2,2.1,2.2,2.3,2.4,2.5,2.6,2.7,2.8,2.9,3,3.1,3.2,3.3,3.4,3.5,3.6,3.7,3.8,3.9,4],
       "tickSize": {"condition": {"test": "abs(datum.value*2-round(datum.value*2))<0.01", "value": -10}, "value": -5},
       "labels": false, "title": null}},
    "y": {"field": "g", "type": "quantitative",
      "axis": {"orient": "right", "values": [0.6,0.7,0.8,0.9,1,1.1,1.2,1.3,1.4,1.5,1.6,1.7,1.8,1.9,2,2.1,2.2,2.3,2.4,2.5,2.6],
       "tickSize": {"condition": {"test": "abs(datum.value*5-round(datum.value*5))<0.01", "value": -10}, "value": -5},
       "labels": false, "title": null}},
    "detail": {"field": "k"},
    "strokeDash": {"datum": "MFA", "type": "nominal"}
   }
  },
  {
   "transform": [{"fold": ["s1","s2","s3","s4","s5"], "as": ["k","g"]}, {"filter": "isValid(datum.g)"}],
   "mark": {"type": "point", "filled": true, "color": "black", "size": 26, "opacity": 1},
   "encoding": {
    "x": {"field": "r", "type": "quantitative", "axis": null},
    "y": {"field": "g", "type": "quantitative", "axis": null},
    "shape": {"datum": "Simulation", "type": "nominal", "scale": {"domain": ["Simulation"], "range": ["circle"]},
      "legend": {"legendX": 410.5, "legendY": 30, "symbolSize": 26, "symbolFillColor": "black", "symbolStrokeWidth": 0, "labelOffset": 16}}
   }
  },
  {
   "data": {"values": [{"label": "(b)"}]},
   "mark": {"type": "text", "font": "Liberation Sans", "fontSize": 19, "color": "black"},
   "encoding": {
    "x": {"datum": 0.5, "type": "quantitative", "axis": null},
    "y": {"datum": 2.4, "type": "quantitative", "axis": null},
    "text": {"field": "label"}
   }
  }
 ],
 "resolve": {"axis": {"x": "independent", "y": "independent"}}
},
{
 "width": 571, "height": 399,
 "data": {"name": "c"},
 "layer": [
  {
   "transform": [{"fold": ["h1","h2","h3","h4","h5"], "as": ["k","g"]}, {"filter": "isValid(datum.g)"}],
   "mark": {"type": "line", "interpolate": "monotone", "color": "black", "strokeWidth": 1.3},
   "encoding": {
    "x": {"field": "r", "type": "quantitative", "scale": {"domain": [0,4], "nice": false, "zero": false},
      "axis": {"orient": "bottom", "values": [0,0.1,0.2,0.3,0.4,0.5,0.6,0.7,0.8,0.9,1,1.1,1.2,1.3,1.4,1.5,1.6,1.7,1.8,1.9,2,2.1,2.2,2.3,2.4,2.5,2.6,2.7,2.8,2.9,3,3.1,3.2,3.3,3.4,3.5,3.6,3.7,3.8,3.9,4],
       "tickSize": {"condition": {"test": "abs(datum.value*2-round(datum.value*2))<0.01", "value": -10}, "value": -5},
       "labelExpr": "abs(datum.value*2-round(datum.value*2))<0.01 ? format(datum.value,'~g') : ''",
       "labelPadding": 16, "title": "r/σ", "titlePadding": -3}},
    "y": {"field": "g", "type": "quantitative", "scale": {"domain": [0.8,2.2], "nice": false, "zero": false},
      "axis": {"orient": "left", "values": [0.8,0.9,1,1.1,1.2,1.3,1.4,1.5,1.6,1.7,1.8,1.9,2,2.1,2.2],
       "tickSize": {"condition": {"test": "abs(datum.value*5-round(datum.value*5))<0.01", "value": -10}, "value": -5},
       "labelExpr": "abs(datum.value*5-round(datum.value*5))<0.01 ? format(datum.value,'.1f') : ''",
       "labelPadding": 16, "title": "g(r)", "titlePadding": 8}},
    "detail": {"field": "k"},
    "strokeDash": {"datum": "HNC", "type": "nominal", "scale": {"domain": ["HNC","MFA"], "range": [[1,0],[7,4]]},
      "legend": {"legendX": 406, "legendY": 50, "symbolType": "stroke", "symbolSize": 441, "symbolStrokeWidth": 1.3, "symbolStrokeColor": "black", "labelOffset": 20, "rowPadding": 0}}
   }
  },
  {
   "transform": [{"fold": ["m1","m2","m3","m4","m5"], "as": ["k","g"]}, {"filter": "isValid(datum.g)"}],
   "mark": {"type": "line", "interpolate": "monotone", "color": "black", "strokeWidth": 1.3},
   "encoding": {
    "x": {"field": "r", "type": "quantitative",
      "axis": {"orient": "top", "values": [0,0.1,0.2,0.3,0.4,0.5,0.6,0.7,0.8,0.9,1,1.1,1.2,1.3,1.4,1.5,1.6,1.7,1.8,1.9,2,2.1,2.2,2.3,2.4,2.5,2.6,2.7,2.8,2.9,3,3.1,3.2,3.3,3.4,3.5,3.6,3.7,3.8,3.9,4],
       "tickSize": {"condition": {"test": "abs(datum.value*2-round(datum.value*2))<0.01", "value": -10}, "value": -5},
       "labels": false, "title": null}},
    "y": {"field": "g", "type": "quantitative",
      "axis": {"orient": "right", "values": [0.8,0.9,1,1.1,1.2,1.3,1.4,1.5,1.6,1.7,1.8,1.9,2,2.1,2.2],
       "tickSize": {"condition": {"test": "abs(datum.value*5-round(datum.value*5))<0.01", "value": -10}, "value": -5},
       "labels": false, "title": null}},
    "detail": {"field": "k"},
    "strokeDash": {"datum": "MFA", "type": "nominal"}
   }
  },
  {
   "transform": [{"fold": ["s1","s2","s3","s4","s5"], "as": ["k","g"]}, {"filter": "isValid(datum.g)"}],
   "mark": {"type": "point", "filled": true, "color": "black", "size": 26, "opacity": 1},
   "encoding": {
    "x": {"field": "r", "type": "quantitative", "axis": null},
    "y": {"field": "g", "type": "quantitative", "axis": null},
    "shape": {"datum": "Simulation", "type": "nominal", "scale": {"domain": ["Simulation"], "range": ["circle"]},
      "legend": {"legendX": 410.5, "legendY": 30, "symbolSize": 26, "symbolFillColor": "black", "symbolStrokeWidth": 0, "labelOffset": 16}}
   }
  },
  {
   "data": {"values": [{"label": "(c)"}]},
   "mark": {"type": "text", "font": "Liberation Sans", "fontSize": 19, "color": "black"},
   "encoding": {
    "x": {"datum": 0.62, "type": "quantitative", "axis": null},
    "y": {"datum": 2.077, "type": "quantitative", "axis": null},
    "text": {"field": "label"}
   }
  }
 ],
 "resolve": {"axis": {"x": "independent", "y": "independent"}}
}
 ]
}
]
}
